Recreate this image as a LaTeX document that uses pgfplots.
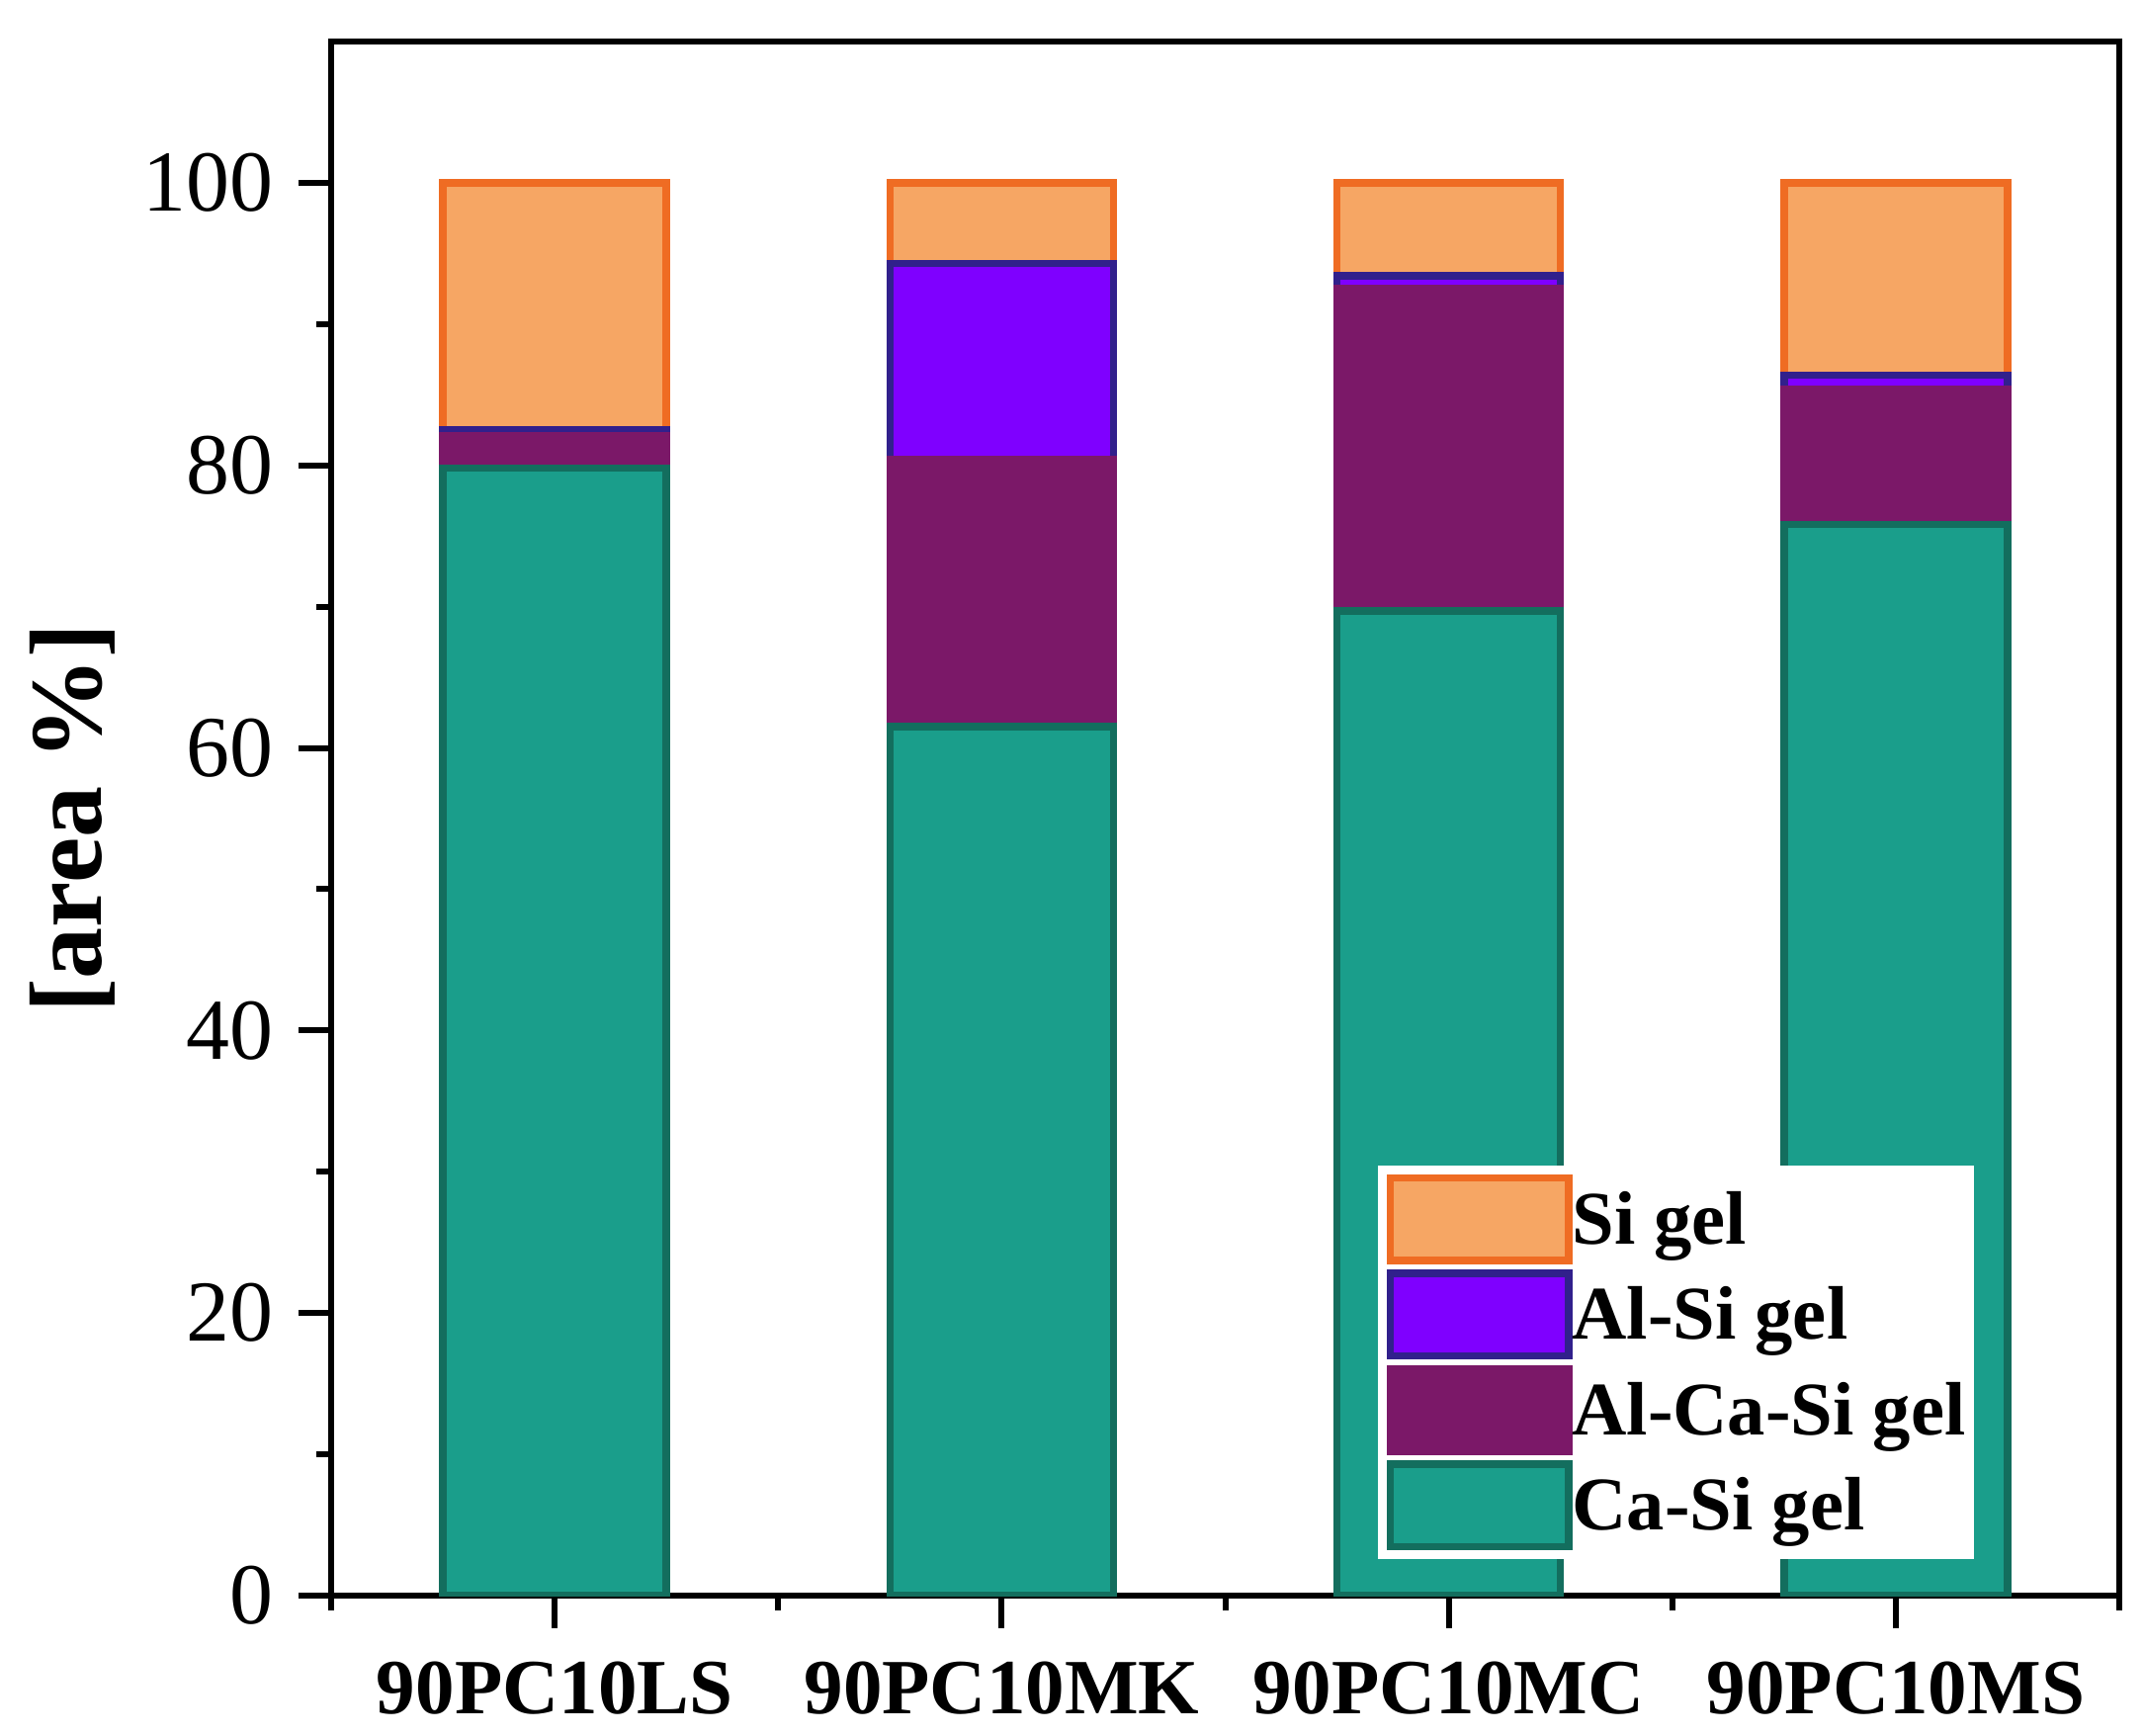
\documentclass[border=0pt]{standalone}
\usepackage{pgfplots}
\pgfplotsset{compat=1.18}
\usepackage{fontspec}
\setmainfont{Liberation Serif}
\definecolor{sifill}{RGB}{246,166,100}
\definecolor{sidraw}{RGB}{239,108,35}
\definecolor{alsifill}{RGB}{127,0,255}
\definecolor{alsidraw}{RGB}{49,32,140}
\definecolor{acs}{RGB}{123,24,104}
\definecolor{casifill}{RGB}{26,158,139}
\definecolor{casidraw}{RGB}{19,110,94}
\begin{document}
\begin{tikzpicture}
\begin{axis}[
  scale only axis,
  width=18.09cm, height=15.72cm,
  ybar stacked,
  bar width=2.26cm,
  xmin=-0.5, xmax=3.5,
  ymin=0, ymax=110,
  xtick={0,1,2,3},
  xticklabels={90PC10LS,90PC10MK,90PC10MC,90PC10MS},
  minor xtick={-0.5,0.5,1.5,2.5,3.5},
  ytick={0,20,40,60,80,100},
  minor ytick={10,30,50,70,90},
  tick pos=left,
  tick align=outside,
  major tick length=0.33cm,
  minor tick length=0.15cm,
  every tick/.style={black, line width=0.06cm},
  axis line style={line width=0.06cm},
  /pgf/number format/assume math mode=true,
  yticklabel style={font=\fontsize{25}{30}\selectfont, inner sep=0pt, xshift=-0.25cm},
  xticklabel style={font=\bfseries\fontsize{22.5}{27}\selectfont, inner sep=0pt, anchor=north, yshift=-0.33cm},
  ylabel={[area \%]},
  ylabel style={font=\bfseries\fontsize{29.6}{34}\selectfont, at={(rel axis cs:0,0.5)}, anchor=center, yshift=2.62cm},
  reverse legend,
  legend cell align=left,
  legend style={at={(rel axis cs:0.585,0.023)}, anchor=south west, draw=none, fill=white,
    inner sep=0.09cm, row sep=0.055cm,
    font=\bfseries\fontsize{21.8}{25}\selectfont,
    nodes={inner sep=0pt},
    /tikz/every even column/.append style={column sep=0.22cm}},
  legend image code/.code={\draw[#1] (0cm,-0.405cm) rectangle (1.8cm,0.43cm);},
]
\addplot[fill=casifill, draw=casidraw, line width=0.075cm] coordinates {(0,79.8) (1,61.5) (2,69.7) (3,75.8)};
\addlegendentry{Ca-Si gel}
\addplot[fill=acs, draw=acs, line width=0.075cm] coordinates {(0,2.3) (1,18.9) (2,22.8) (3,9.6)};
\addlegendentry{Al-Ca-Si gel}
\addplot[fill=alsifill, draw=alsidraw, line width=0.075cm] coordinates {(0,0.4) (1,13.9) (2,0.9) (3,1.0)};
\addlegendentry{Al-Si gel}
\addplot[fill=sifill, draw=sidraw, line width=0.075cm] coordinates {(0,17.5) (1,5.7) (2,6.6) (3,13.6)};
\addlegendentry{Si gel}
\end{axis}
\pgfresetboundingbox
\useasboundingbox (-3.35cm,-1.41cm) rectangle (18.34cm,16.14cm);
\end{tikzpicture}
\end{document}
